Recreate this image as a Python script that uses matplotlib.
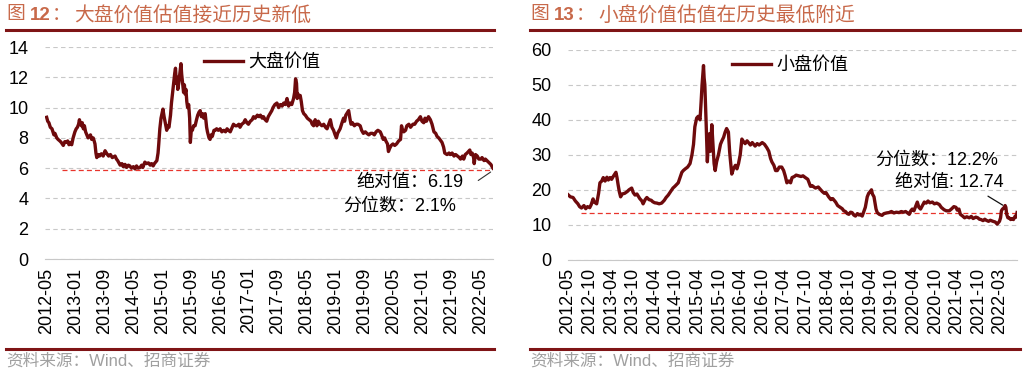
import numpy as np
import pandas as pd
import matplotlib
matplotlib.use("Agg")
import matplotlib.pyplot as plt
import matplotlib.dates as mdates

plt.rcParams['font.family'] = ['Liberation Sans', 'Noto Sans CJK SC']

# ---- data: large-cap value PE ----
big_dates = [
    '2012-05-01', '2012-05-10', '2012-05-20', '2012-06-01', '2012-06-15', '2012-07-01', '2012-07-10',
    '2012-07-25', '2012-08-05', '2012-08-20', '2012-09-01', '2012-09-18', '2012-10-01', '2012-10-15',
    '2012-10-25', '2012-11-05', '2012-11-15', '2012-11-28', '2012-12-10', '2012-12-25', '2013-01-05',
    '2013-01-15', '2013-01-25', '2013-02-01', '2013-02-10', '2013-02-18', '2013-02-25', '2013-03-06',
    '2013-03-15', '2013-03-25', '2013-04-05', '2013-04-15', '2013-04-25', '2013-05-05', '2013-05-15',
    '2013-05-28', '2013-06-05', '2013-06-12', '2013-06-20', '2013-06-27', '2013-07-10', '2013-07-20',
    '2013-08-05', '2013-08-20', '2013-09-05', '2013-09-20', '2013-10-05', '2013-10-20', '2013-11-05',
    '2013-11-28', '2013-12-10', '2013-12-20', '2014-01-10', '2014-01-25', '2014-02-05', '2014-02-20',
    '2014-03-05', '2014-03-20', '2014-04-01', '2014-04-15', '2014-05-01', '2014-05-15', '2014-05-28',
    '2014-06-10', '2014-06-27', '2014-07-10', '2014-07-20', '2014-08-06', '2014-08-20', '2014-09-05',
    '2014-09-20', '2014-10-02', '2014-10-15', '2014-10-25', '2014-11-15', '2014-11-25', '2014-12-01',
    '2014-12-10', '2014-12-20', '2015-01-05', '2015-01-15', '2015-01-25', '2015-02-06', '2015-02-15',
    '2015-02-25', '2015-03-10', '2015-03-18', '2015-03-28', '2015-04-08', '2015-04-15', '2015-04-21',
    '2015-04-28', '2015-05-05', '2015-05-10', '2015-05-18', '2015-05-28', '2015-06-06', '2015-06-12',
    '2015-06-20', '2015-06-28', '2015-07-05', '2015-07-10', '2015-07-18', '2015-07-25', '2015-08-01',
    '2015-08-10', '2015-08-18', '2015-08-24', '2015-09-01', '2015-09-10', '2015-09-20', '2015-10-03',
    '2015-10-15', '2015-10-25', '2015-11-05', '2015-11-15', '2015-11-25', '2015-12-05', '2015-12-15',
    '2015-12-27', '2016-01-08', '2016-01-15', '2016-01-28', '2016-02-06', '2016-02-15', '2016-02-25',
    '2016-03-10', '2016-03-20', '2016-04-01', '2016-04-15', '2016-05-01', '2016-05-15', '2016-06-01',
    '2016-06-15', '2016-06-28', '2016-07-10', '2016-07-25', '2016-08-10', '2016-08-21', '2016-09-05',
    '2016-09-20', '2016-10-05', '2016-10-15', '2016-10-30', '2016-11-15', '2016-11-28', '2016-12-12',
    '2016-12-25', '2017-01-10', '2017-01-25', '2017-02-06', '2017-02-20', '2017-03-10', '2017-03-25',
    '2017-04-05', '2017-04-20', '2017-05-01', '2017-05-15', '2017-05-28', '2017-06-10', '2017-06-25',
    '2017-07-10', '2017-07-20', '2017-08-05', '2017-08-22', '2017-09-05', '2017-09-20', '2017-10-05',
    '2017-10-18', '2017-11-01', '2017-11-15', '2017-11-28', '2017-12-12', '2017-12-25', '2018-01-09',
    '2018-01-18', '2018-01-26', '2018-02-03', '2018-02-09', '2018-02-15', '2018-02-28', '2018-03-06',
    '2018-03-15', '2018-03-25', '2018-04-05', '2018-04-18', '2018-05-05', '2018-05-20', '2018-06-05',
    '2018-06-15', '2018-06-27', '2018-07-10', '2018-07-25', '2018-08-05', '2018-08-21', '2018-09-05',
    '2018-09-20', '2018-10-05', '2018-10-18', '2018-11-01', '2018-11-15', '2018-11-28', '2018-12-12',
    '2018-12-25', '2019-01-05', '2019-01-15', '2019-02-05', '2019-02-25', '2019-03-06', '2019-03-15',
    '2019-03-25', '2019-04-10', '2019-04-18', '2019-04-28', '2019-05-08', '2019-05-20', '2019-06-05',
    '2019-06-20', '2019-07-05', '2019-07-24', '2019-08-05', '2019-08-20', '2019-09-05', '2019-09-18',
    '2019-10-05', '2019-10-20', '2019-11-05', '2019-11-20', '2019-12-05', '2019-12-20', '2020-01-09',
    '2020-01-20', '2020-02-03', '2020-02-15', '2020-02-25', '2020-03-10', '2020-03-18', '2020-03-28',
    '2020-04-10', '2020-04-25', '2020-05-10', '2020-05-25', '2020-06-12', '2020-06-28', '2020-07-06',
    '2020-07-12', '2020-07-25', '2020-08-09', '2020-08-20', '2020-09-06', '2020-09-20', '2020-10-10',
    '2020-10-25', '2020-11-10', '2020-11-25', '2020-12-12', '2020-12-25', '2021-01-09', '2021-01-20',
    '2021-02-01', '2021-02-18', '2021-03-06', '2021-03-20', '2021-04-05', '2021-04-20', '2021-05-01',
    '2021-05-15', '2021-05-25', '2021-06-12', '2021-06-25', '2021-07-05', '2021-07-24', '2021-08-10',
    '2021-08-20', '2021-09-05', '2021-09-21', '2021-10-05', '2021-10-20', '2021-11-05', '2021-11-15',
    '2021-12-01', '2021-12-12', '2021-12-25', '2022-01-09', '2022-01-20', '2022-02-01', '2022-02-10',
    '2022-02-21', '2022-03-05', '2022-03-10', '2022-03-15', '2022-03-21', '2022-04-05', '2022-04-18',
    '2022-05-05', '2022-05-15', '2022-06-01', '2022-06-12', '2022-06-25', '2022-07-09', '2022-07-20',
    '2022-07-28', '2022-08-08', '2022-08-15']
big_pe = [
    9.36, 9.1, 9.0, 8.7, 8.6, 8.2, 8.3,
    8.0, 7.9, 7.8, 7.7, 7.5, 7.75, 7.7,
    7.8, 7.55, 7.7, 7.55, 8.0, 8.4, 8.6,
    8.7, 8.9, 9.2, 8.9, 8.8, 9.0, 8.6,
    8.8, 8.4, 8.2, 8.0, 8.1, 8.2, 7.9,
    8.0, 7.8, 7.6, 7.0, 6.7, 6.9, 6.8,
    6.95, 6.8, 7.15, 6.95, 6.8, 6.9, 6.7,
    6.8, 6.6, 6.5, 6.2, 6.3, 6.1, 6.25,
    6.05, 6.2, 6.15, 6.0, 6.1, 5.95, 6.15,
    6.0, 6.05, 6.2, 6.05, 6.4, 6.3, 6.35,
    6.2, 6.3, 6.15, 6.3, 6.5, 7.0, 7.6,
    8.6, 9.3, 9.9, 9.4, 9.0, 8.5, 8.8,
    8.7, 9.5, 10.3, 11.0, 11.8, 12.3, 12.6,
    11.6, 12.0, 11.2, 11.6, 12.3, 12.9, 12.2,
    11.6, 11.0, 11.5, 10.9, 11.2, 10.4, 10.0,
    10.2, 9.3, 7.7, 8.5, 8.5, 8.8, 8.8,
    9.2, 9.5, 9.7, 9.8, 9.4, 9.6, 9.3,
    9.6, 8.7, 8.4, 8.0, 7.9, 8.2, 8.1,
    8.5, 8.5, 8.6, 8.5, 8.6, 8.4, 8.5,
    8.4, 8.6, 8.5, 8.4, 8.7, 8.9, 8.8,
    8.8, 8.9, 8.7, 8.9, 9.0, 9.2, 9.0,
    8.9, 9.1, 9.2, 9.4, 9.3, 9.5, 9.4,
    9.5, 9.3, 9.4, 9.2, 9.1, 9.4, 9.6,
    9.8, 10.0, 10.2, 10.3, 10.0, 10.2, 10.1,
    10.3, 10.2, 10.6, 10.1, 10.3, 10.2, 10.6,
    11.0, 11.9, 11.6, 10.6, 10.9, 10.7, 10.8,
    10.4, 9.8, 9.6, 9.5, 9.3, 9.2, 9.1,
    8.9, 8.8, 9.2, 8.8, 9.1, 8.9, 8.8,
    8.9, 8.7, 8.6, 8.9, 9.2, 8.7, 8.5,
    8.2, 8.0, 8.3, 8.6, 9.1, 9.3, 9.1,
    9.5, 9.7, 9.8, 9.3, 8.9, 9.0, 8.8,
    8.9, 8.9, 8.8, 8.5, 8.3, 8.4, 8.3,
    8.2, 8.3, 8.3, 8.2, 8.4, 8.5, 8.4,
    8.2, 7.9, 8.0, 7.8, 7.6, 7.1, 7.3,
    7.5, 7.6, 7.5, 7.6, 7.8, 7.9, 8.8,
    8.6, 8.4, 8.5, 8.8, 8.9, 8.7, 8.9,
    8.9, 9.1, 9.2, 9.4, 9.1, 9.0, 9.3,
    9.1, 9.4, 9.2, 8.9, 8.4, 8.3, 8.1,
    8.0, 7.9, 7.7, 7.4, 7.0, 6.9, 7.0,
    6.9, 7.0, 6.8, 6.9, 6.8, 6.7, 6.6,
    6.8, 6.6, 6.9, 7.0, 7.1, 7.2, 6.9,
    7.0, 6.7, 6.3, 6.6, 6.9, 6.8, 6.6,
    6.6, 6.7, 6.5, 6.6, 6.5, 6.4, 6.3,
    6.25, 6.1, 6.0]

# ---- data: small-cap value PE ----
small_dates = [
    '2012-05-01', '2012-05-20', '2012-06-12', '2012-07-01', '2012-07-22', '2012-08-05', '2012-08-21',
    '2012-09-10', '2012-09-25', '2012-10-10', '2012-10-28', '2012-11-10', '2012-11-25', '2012-12-05',
    '2012-12-25', '2013-01-10', '2013-01-21', '2013-02-05', '2013-02-18', '2013-03-05', '2013-03-20',
    '2013-04-01', '2013-04-15', '2013-04-28', '2013-05-15', '2013-06-03', '2013-06-12', '2013-06-21',
    '2013-07-01', '2013-07-12', '2013-07-25', '2013-08-15', '2013-09-05', '2013-09-20', '2013-10-12',
    '2013-10-25', '2013-11-09', '2013-11-25', '2013-12-18', '2014-01-05', '2014-01-15', '2014-02-01',
    '2014-02-15', '2014-03-05', '2014-03-24', '2014-04-05', '2014-04-21', '2014-05-10', '2014-05-28',
    '2014-06-18', '2014-07-10', '2014-07-25', '2014-08-12', '2014-09-01', '2014-09-20', '2014-10-06',
    '2014-10-20', '2014-11-03', '2014-11-18', '2014-12-03', '2014-12-15', '2015-01-01', '2015-01-20',
    '2015-02-09', '2015-02-25', '2015-03-10', '2015-03-21', '2015-04-05', '2015-04-18', '2015-05-03',
    '2015-05-12', '2015-05-20', '2015-06-01', '2015-06-06', '2015-06-12', '2015-06-22', '2015-07-03',
    '2015-07-10', '2015-07-19', '2015-07-28', '2015-08-09', '2015-08-15', '2015-08-21', '2015-08-28',
    '2015-09-06', '2015-09-18', '2015-10-03', '2015-10-20', '2015-11-01', '2015-11-15', '2015-11-28',
    '2015-12-10', '2015-12-25', '2016-01-04', '2016-01-09', '2016-01-22', '2016-02-05', '2016-02-21',
    '2016-03-05', '2016-03-18', '2016-04-01', '2016-04-15', '2016-04-28', '2016-05-12', '2016-05-28',
    '2016-06-09', '2016-06-25', '2016-07-10', '2016-08-03', '2016-08-20', '2016-09-05', '2016-10-01',
    '2016-10-20', '2016-11-09', '2016-11-25', '2016-12-09', '2016-12-20', '2017-01-06', '2017-01-20',
    '2017-02-03', '2017-02-20', '2017-03-12', '2017-03-28', '2017-04-10', '2017-04-24', '2017-05-10',
    '2017-05-25', '2017-06-06', '2017-06-25', '2017-07-10', '2017-08-01', '2017-08-20', '2017-09-05',
    '2017-09-24', '2017-10-15', '2017-11-06', '2017-11-20', '2017-12-05', '2017-12-18', '2018-01-10',
    '2018-01-25', '2018-02-12', '2018-03-01', '2018-03-15', '2018-04-06', '2018-04-25', '2018-05-10',
    '2018-06-03', '2018-06-20', '2018-07-12', '2018-07-28', '2018-08-10', '2018-08-24', '2018-09-08',
    '2018-09-21', '2018-10-05', '2018-10-18', '2018-11-01', '2018-11-15', '2018-12-01', '2018-12-15',
    '2018-12-27', '2019-01-10', '2019-01-24', '2019-02-05', '2019-02-21', '2019-03-05', '2019-03-18',
    '2019-03-28', '2019-04-05', '2019-04-18', '2019-05-05', '2019-05-15', '2019-06-01', '2019-06-24',
    '2019-07-10', '2019-08-01', '2019-08-21', '2019-09-10', '2019-10-01', '2019-10-20', '2019-11-12',
    '2019-12-01', '2019-12-20', '2020-01-06', '2020-01-22', '2020-02-05', '2020-02-18', '2020-03-01',
    '2020-03-15', '2020-04-01', '2020-04-12', '2020-04-25', '2020-05-09', '2020-05-25', '2020-06-09',
    '2020-06-25', '2020-07-10', '2020-07-25', '2020-08-15', '2020-09-01', '2020-09-20', '2020-10-12',
    '2020-10-28', '2020-11-21', '2020-12-10', '2021-01-03', '2021-01-20', '2021-02-10', '2021-02-27',
    '2021-03-10', '2021-03-24', '2021-04-05', '2021-04-24', '2021-05-10', '2021-05-28', '2021-06-18',
    '2021-07-05', '2021-07-20', '2021-08-12', '2021-08-28', '2021-09-10', '2021-09-24', '2021-10-10',
    '2021-10-25', '2021-11-06', '2021-11-25', '2021-12-10', '2022-01-01', '2022-01-20', '2022-02-05',
    '2022-02-12', '2022-02-24', '2022-03-05', '2022-03-12', '2022-03-21', '2022-04-01', '2022-04-12',
    '2022-04-18', '2022-04-25', '2022-05-05', '2022-05-15', '2022-05-28', '2022-06-10', '2022-06-20',
    '2022-07-05', '2022-07-12', '2022-07-20']
small_pe = [
    18.6, 18.0, 17.8, 16.8, 16.0, 15.2, 14.8,
    15.5, 14.6, 15.2, 14.9, 15.8, 17.4, 16.5,
    16.0, 19.0, 22.0, 22.5, 23.5, 22.5, 23.6,
    22.8, 23.5, 23.0, 24.0, 25.0, 23.5, 21.5,
    19.5, 18.0, 18.8, 19.0, 19.5, 20.0, 20.5,
    19.2, 18.5, 18.8, 17.5, 16.8, 16.0, 17.2,
    17.8, 17.2, 17.0, 16.6, 16.3, 16.2, 16.0,
    16.2, 17.0, 17.8, 18.5, 19.5, 20.5, 21.0,
    21.5, 22.0, 23.5, 25.0, 25.5, 26.0, 26.5,
    27.5, 30.0, 33.0, 38.0, 40.5, 41.0, 40.0,
    45.0, 50.0, 55.5, 52.0, 50.0, 40.0, 28.0,
    33.0, 36.0, 31.0, 38.6, 35.0, 31.0, 27.5,
    25.5, 28.0, 30.0, 33.0, 34.0, 35.0, 36.5,
    37.5, 36.5, 31.0, 29.0, 24.5, 26.0, 27.0,
    26.0, 27.5, 30.0, 34.5, 33.8, 33.2, 34.0,
    33.5, 32.8, 33.5, 32.5, 33.2, 32.8, 33.5,
    33.0, 32.0, 31.0, 29.0, 28.0, 27.0, 25.5,
    25.5, 26.5, 26.5, 25.5, 24.0, 22.0, 22.5,
    22.0, 23.5, 23.8, 24.2, 24.0, 23.8, 24.0,
    23.5, 23.0, 21.0, 21.2, 20.8, 20.5, 20.8,
    20.2, 19.5, 19.0, 19.2, 18.0, 17.2, 17.5,
    16.5, 15.5, 15.0, 14.6, 14.0, 13.8, 13.2,
    13.0, 13.6, 13.5, 12.8, 12.5, 13.2, 12.8,
    13.0, 12.5, 13.8, 15.0, 18.0, 19.0, 19.5,
    20.0, 18.8, 18.0, 14.5, 13.5, 13.0, 12.7,
    13.2, 13.4, 13.5, 13.8, 13.4, 13.6, 13.5,
    13.8, 13.6, 13.8, 13.4, 13.0, 14.0, 14.5,
    14.0, 15.5, 16.5, 15.0, 14.5, 15.5, 16.5,
    16.2, 16.8, 16.3, 16.5, 16.0, 16.2, 15.8,
    15.0, 14.3, 14.0, 14.0, 14.5, 15.2, 15.0,
    14.2, 14.5, 13.0, 12.5, 12.0, 12.3, 12.0,
    12.4, 11.8, 12.2, 12.0, 11.6, 11.5, 11.2,
    11.6, 11.3, 11.0, 11.3, 11.0, 10.8, 10.2,
    10.5, 11.0, 12.0, 14.0, 14.5, 14.8, 15.5,
    15.0, 13.0, 12.0, 12.0, 11.5, 11.8, 11.5,
    12.5, 12.2, 13.5]

big_ticks = ['2012-05', '2013-01', '2013-09', '2014-05', '2015-01', '2015-09', '2016-05', '2017-01',
             '2017-09', '2018-05', '2019-01', '2019-09', '2020-05', '2021-01', '2021-09', '2022-05']
small_ticks = ['2012-05', '2012-10', '2013-04', '2013-10', '2014-04', '2014-10', '2015-04', '2015-10',
               '2016-04', '2016-10', '2017-04', '2017-10', '2018-04', '2018-10', '2019-04', '2019-10',
               '2020-04', '2020-10', '2021-04', '2021-10', '2022-03']

big_low, small_low = 5.87, 13.5

LINE = '#6E0A0C'
RULE = '#7F1416'
TITLE = '#C8694A'
GRID = '#C8C8C8'

fig = plt.figure(figsize=(10.27, 3.76), dpi=100)


def panel(rect, dates, vals, ticks, ymax, ystep, label, low, low_start, xstart):
    ax = fig.add_axes(rect)
    x = mdates.date2num(pd.to_datetime(dates))
    ax.plot(x, vals, color=LINE, lw=2.4, label=label, zorder=3)
    x0 = mdates.date2num(pd.Timestamp(low_start))
    ax.plot([x0, x[-1]], [low, low], color='#E8342C', lw=0.9, ls=(0, (4, 2.5)), zorder=2)
    ax.set_xlim(mdates.date2num(pd.Timestamp(xstart)), x[-1])
    ax.set_ylim(0, ymax)
    ax.set_yticks(np.arange(0, ymax + 1, ystep))
    tpos = np.linspace(mdates.date2num(pd.Timestamp(ticks[0] + '-01')),
                       mdates.date2num(pd.Timestamp(ticks[-1] + '-01')), len(ticks))
    ax.set_xticks(tpos)
    ax.set_xticklabels(ticks, rotation=90)
    ax.tick_params(axis='both', length=0, labelsize=13, colors='#000000')
    ax.tick_params(axis='x', pad=6)
    ax.tick_params(axis='y', pad=12)
    for s in ['top', 'right', 'left']:
        ax.spines[s].set_visible(False)
    ax.spines['bottom'].set_color(GRID)
    ax.grid(axis='y', color=GRID, ls=(0, (4, 3)), lw=0.8)
    ax.set_axisbelow(True)
    ax.legend(loc='upper center', frameon=False, fontsize=13, handlelength=2.2,
              handletextpad=0.25, borderaxespad=0)
    return ax, x


# left panel
axl, xl = panel([0.0438, 0.311, 0.4362, 0.564], big_dates, big_pe, big_ticks, 14, 2,
                '大盘价值', big_low, '2012-09-05', '2012-04-17')
axl.get_legend().set_bbox_to_anchor((0.484, 1.0))
axl.text(0.696, 0.363, '绝对值：6.19', transform=axl.transAxes, fontsize=13, va='center')
axl.text(0.665, 0.25, '分位数：2.1%', transform=axl.transAxes, fontsize=13, va='center')
axl.annotate('', xy=(xl[-1], 5.85), xytext=(0.962, 0.363), textcoords='axes fraction',
             arrowprops=dict(arrowstyle='-', color='#333333', lw=0.8))

# right panel
axr, xr = panel([0.5531, 0.309, 0.4372, 0.5585], small_dates, small_pe, small_ticks, 60, 10,
                '小盘价值', small_low, '2012-08-20', '2012-05-01')
axr.get_legend().set_bbox_to_anchor((0.494, 1.0))
axr.text(0.684, 0.476, '分位数：12.2%', transform=axr.transAxes, fontsize=13, va='center')
axr.text(0.728, 0.367, '绝对值: 12.74', transform=axr.transAxes, fontsize=13, va='center')
axr.annotate('', xy=(mdates.date2num(pd.Timestamp('2022-04-12')), 15.2), xytext=(0.93, 0.31),
             textcoords='axes fraction',
             arrowprops=dict(arrowstyle='-', color='#111111', lw=0.9))


# titles, rules, source notes
def header(x0, x1, num, text):
    y = 1 - 15 / 376
    fig.text(x0 / 1027, y, '图', color=TITLE, fontsize=13.5, va='center')
    fig.text((x0 + 24) / 1027, y, num, color=TITLE, fontsize=13.5, va='center', fontweight='bold')
    fig.text((x0 + 46) / 1027, y, '：', color=TITLE, fontsize=13.5, va='center')
    fig.text((x0 + 68) / 1027, y, text, color=TITLE, fontsize=14.2, va='center')
    fig.add_artist(plt.Line2D([x0 / 1027, x1 / 1027], [1 - 29.5 / 376] * 2, color=RULE, lw=2.2))
    fig.add_artist(plt.Line2D([x0 / 1027, x1 / 1027], [1 - 349 / 376] * 2, color=RULE, lw=2.2))
    fig.text(x0 / 1027, 1 - 361 / 376, '资料来源：Wind、招商证券', color='#A0A0A0',
             fontsize=12, va='center')


header(6, 494, '12', '大盘价值估值接近历史新低')
header(530, 1020, '13', '小盘价值估值在历史最低附近')

fig.savefig('out.png', dpi=100)
